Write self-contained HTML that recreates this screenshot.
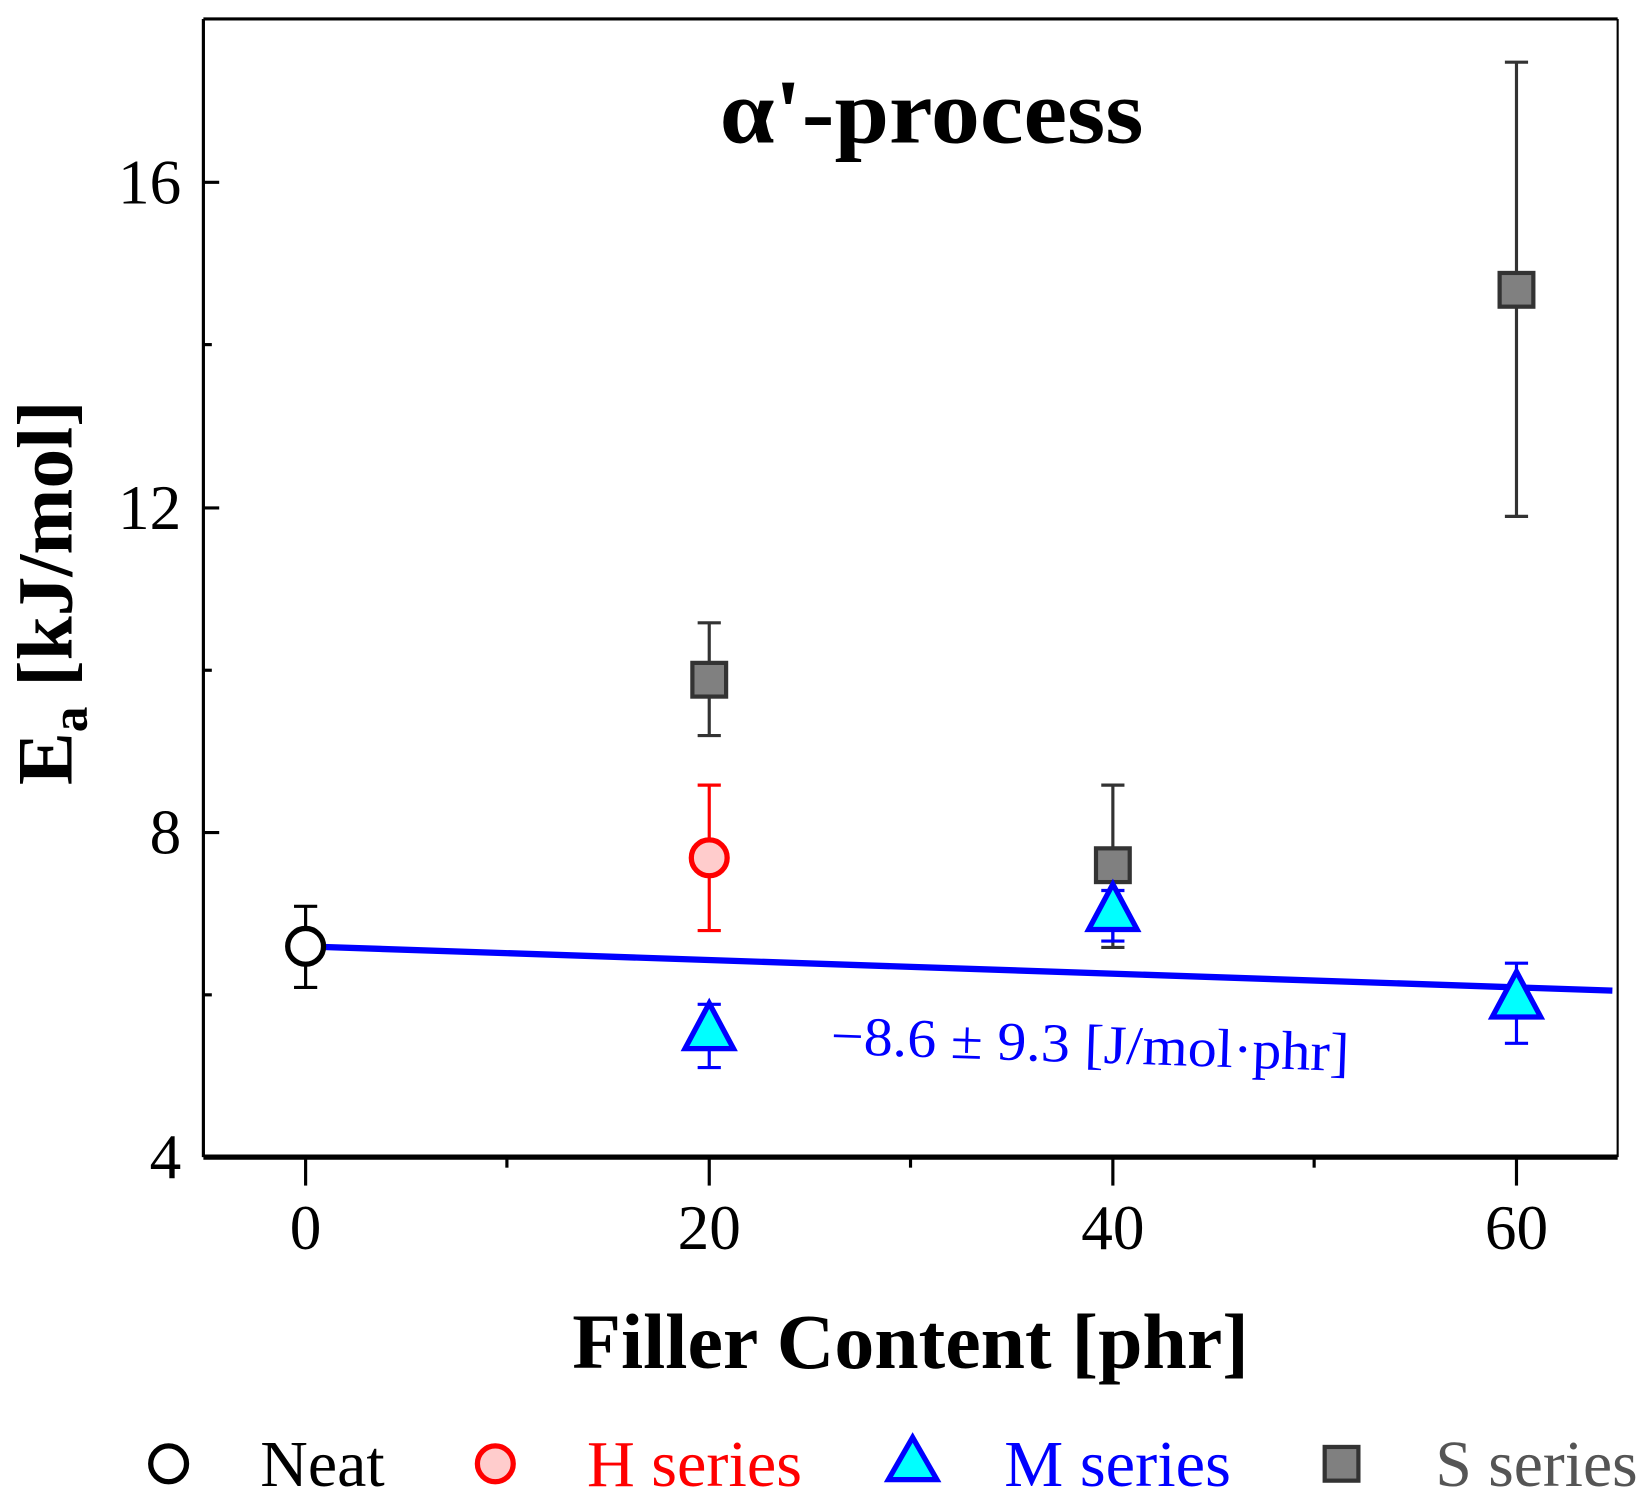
<!DOCTYPE html>
<html><head><meta charset="utf-8"><style>html,body{margin:0;padding:0;background:#fff}svg{display:block}</style></head>
<body>
<svg width="1644" height="1497" viewBox="0 0 1560 1420.5" xmlns="http://www.w3.org/2000/svg" font-family="Liberation Serif, serif">
<line x1="193" y1="18" x2="1535" y2="18" stroke="#000" stroke-width="3"/>
<line x1="1535" y1="18" x2="1535" y2="1098" stroke="#000" stroke-width="2"/>
<line x1="193" y1="18" x2="193" y2="1098" stroke="#000" stroke-width="3"/>
<line x1="193" y1="1098" x2="1535" y2="1098" stroke="#000" stroke-width="5"/>
<g stroke="#000" stroke-width="3">
<line x1="193" y1="173" x2="208" y2="173"/><line x1="193" y1="327" x2="201" y2="327"/>
<line x1="193" y1="482" x2="208" y2="482"/><line x1="193" y1="636" x2="201" y2="636"/>
<line x1="193" y1="790" x2="208" y2="790"/><line x1="193" y1="944" x2="201" y2="944"/>
<line x1="290" y1="1098" x2="290" y2="1125"/><line x1="481" y1="1098" x2="481" y2="1108"/>
<line x1="673" y1="1098" x2="673" y2="1125"/><line x1="864" y1="1098" x2="864" y2="1108"/>
<line x1="1056" y1="1098" x2="1056" y2="1125"/><line x1="1247" y1="1098" x2="1247" y2="1108"/>
<line x1="1439" y1="1098" x2="1439" y2="1125"/>
</g>
<g font-size="60" text-anchor="end">
<text x="172" y="193">16</text><text x="172" y="502">12</text><text x="172" y="810">8</text><text x="172" y="1118">4</text>
</g>
<g font-size="60" text-anchor="middle">
<text x="290" y="1185">0</text><text x="673" y="1185">20</text><text x="1056" y="1185">40</text><text x="1439" y="1185">60</text>
</g>
<text x="543" y="1298" font-size="74" font-weight="bold" textLength="642" lengthAdjust="spacingAndGlyphs">Filler Content [phr]</text>
<text transform="translate(68,745) rotate(-90)" font-size="74" font-weight="bold" textLength="365" lengthAdjust="spacingAndGlyphs">E<tspan font-size="48" dy="14">a</tspan><tspan dy="-14"> [kJ/mol]</tspan></text>
<text x="683" y="135" font-size="86" font-weight="bold" textLength="402" lengthAdjust="spacingAndGlyphs">α'-process</text>
<line x1="290" y1="898" x2="1530" y2="940" stroke="#0000ff" stroke-width="6"/>
<text x="788" y="1000" font-size="52" fill="#0000ff" transform="rotate(1.9 788 1000)" textLength="492" lengthAdjust="spacingAndGlyphs">−8.6 ± 9.3 [J/mol·phr]</text>
<g stroke-width="3">
<g stroke="#000"><line x1="290" y1="860" x2="290" y2="937"/><line x1="279" y1="860" x2="301" y2="860"/><line x1="279" y1="937" x2="301" y2="937"/></g>
<g stroke="#ff0000"><line x1="673" y1="745" x2="673" y2="883"/><line x1="662" y1="745" x2="684" y2="745"/><line x1="662" y1="883" x2="684" y2="883"/></g>
<g stroke="#333"><line x1="673" y1="591" x2="673" y2="698"/><line x1="662" y1="591" x2="684" y2="591"/><line x1="662" y1="698" x2="684" y2="698"/>
<line x1="1056" y1="745" x2="1056" y2="899"/><line x1="1045" y1="745" x2="1067" y2="745"/><line x1="1045" y1="899" x2="1067" y2="899"/>
<line x1="1439" y1="59" x2="1439" y2="490"/><line x1="1428" y1="59" x2="1450" y2="59"/><line x1="1428" y1="490" x2="1450" y2="490"/></g>
<g stroke="#0000ff"><line x1="673" y1="953" x2="673" y2="1013"/><line x1="662" y1="953" x2="684" y2="953"/><line x1="662" y1="1013" x2="684" y2="1013"/>
<line x1="1056" y1="845" x2="1056" y2="893"/><line x1="1045" y1="845" x2="1067" y2="845"/><line x1="1045" y1="893" x2="1067" y2="893"/>
<line x1="1439" y1="914" x2="1439" y2="990"/><line x1="1428" y1="914" x2="1450" y2="914"/><line x1="1428" y1="990" x2="1450" y2="990"/></g>
</g>
<circle cx="290" cy="898" r="17" fill="#fff" stroke="#000" stroke-width="5"/>
<circle cx="673" cy="814" r="17" fill="#ffcccc" stroke="#ff0000" stroke-width="5"/>
<g fill="#808080" stroke="#333" stroke-width="4">
<rect x="657" y="629" width="32" height="32"/><rect x="1040" y="805" width="32" height="32"/><rect x="1423" y="259" width="32" height="32"/></g>
<g fill="#00ffff" stroke="#0000ff" stroke-width="5">
<polygon points="673,952 696,995 650,995"/><polygon points="1056,839 1079,882 1033,882"/><polygon points="1439,922 1462,965 1416,965"/></g>
<circle cx="160" cy="1389" r="17" fill="#fff" stroke="#000" stroke-width="5"/>
<text x="247" y="1410" font-size="62" textLength="118" lengthAdjust="spacingAndGlyphs">Neat</text>
<circle cx="470" cy="1389" r="17" fill="#ffcccc" stroke="#ff0000" stroke-width="5"/>
<text x="557" y="1410" font-size="62" fill="#ff0000" textLength="204" lengthAdjust="spacingAndGlyphs">H series</text>
<polygon points="866,1364 889,1404 843,1404" fill="#00ffff" stroke="#0000ff" stroke-width="5"/>
<text x="953" y="1410" font-size="62" fill="#0000ff" textLength="215" lengthAdjust="spacingAndGlyphs">M series</text>
<rect x="1257" y="1373" width="32" height="32" fill="#808080" stroke="#333" stroke-width="4"/>
<text x="1362" y="1410" font-size="62" fill="#555" textLength="192" lengthAdjust="spacingAndGlyphs">S series</text>
</svg>
</body></html>
